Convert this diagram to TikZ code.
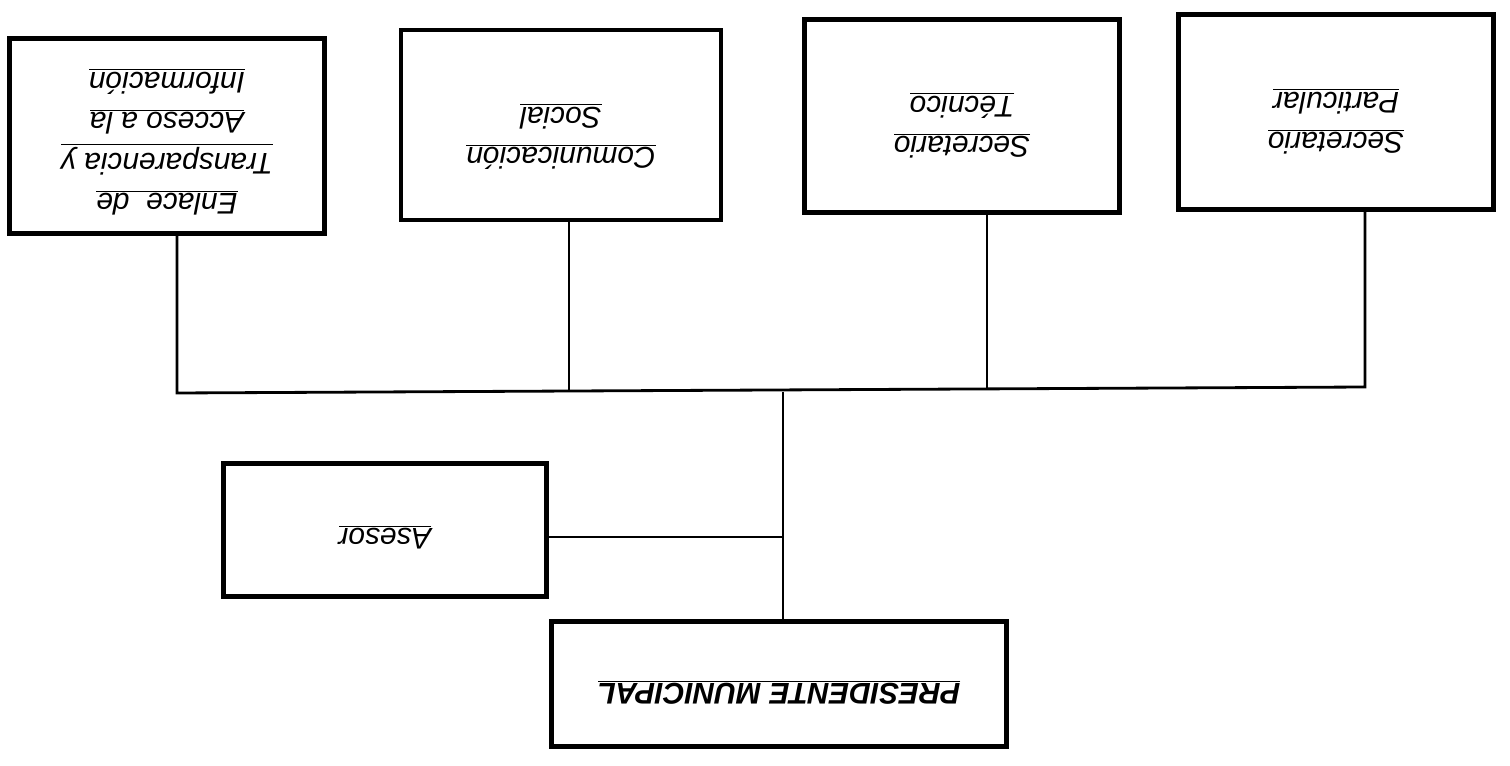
\documentclass[tikz,border=0pt]{standalone}
\usepackage{fontspec}
\setmainfont{Liberation Sans}
\usepackage{graphicx}
\usepackage{tikz}
\usetikzlibrary{positioning}

\newcommand{\alreves}[2][5pt]{\raisebox{-#1}[\height][\depth]{\rotatebox{180}{\begin{tabular}{@{}c@{}}#2\end{tabular}}}}

\tikzset{
  cargo/.style={draw, line width=2.7pt, rectangle, inner sep=0pt,
    font=\fontsize{17}{23}\selectfont\itshape},
  liga/.style={line width=1.6pt}
}

\begin{document}
\begin{tikzpicture}[x=0.02cm,y=-0.02cm]
  \useasboundingbox (0,0) rectangle (1510,766);

  % cuatro cajas de arriba
  \node[cargo, minimum width=6.3cm, minimum height=3.9cm] (enlace) at (167,136)
    {\alreves[3pt]{\underline{Enlace\ \ de}\\ \underline{Transparencia y}\\ \underline{Acceso a la}\\ \underline{Información}}};
  \node[cargo, minimum width=6.4cm, minimum height=3.8cm] (comunic) at (561,125)
    {\alreves[6pt]{\underline{Comunicación}\\ \underline{Social}}};
  \node[cargo, minimum width=6.3cm, minimum height=3.85cm] (sectec) at (962,116)
    {\alreves{\underline{Secretario}\\ \underline{Técnico}}};
  \node[cargo, minimum width=6.3cm, minimum height=3.9cm] (secpart) at (1336,112)
    {\alreves{\underline{Secretario}\\ \underline{Particular}}};

  \node[cargo, minimum width=6.45cm, minimum height=2.65cm] (asesor) at (385,530)
    {\alreves[4pt]{\underline{Asesor}}};
  \node[cargo, minimum width=9.1cm, minimum height=2.5cm,
    font=\fontsize{17}{23}\selectfont\bfseries\itshape] (presidente) at (779,684)
    {\alreves[4.5pt]{\underline{PRESIDENTE MUNICIPAL}}};

  % puntos de union
  \coordinate (busL) at (177,393);
  \coordinate (busR) at (1365,387);
  \coordinate (jc) at (569,391);
  \coordinate (jt) at (987,388);
  \coordinate (jp) at (783,392);
  \coordinate (ja) at (783,537);

  \draw[liga] (enlace.south -| busL) -- (busL) -- (busR) -- (secpart.south -| busR);
  \draw[liga] (comunic.south -| jc) -- (jc);
  \draw[liga] (sectec.south -| jt) -- (jt);
  \draw[liga] (jp) -- (presidente.north -| jp);
  \draw[liga] (asesor.east |- ja) -- (ja);
\end{tikzpicture}
\end{document}
